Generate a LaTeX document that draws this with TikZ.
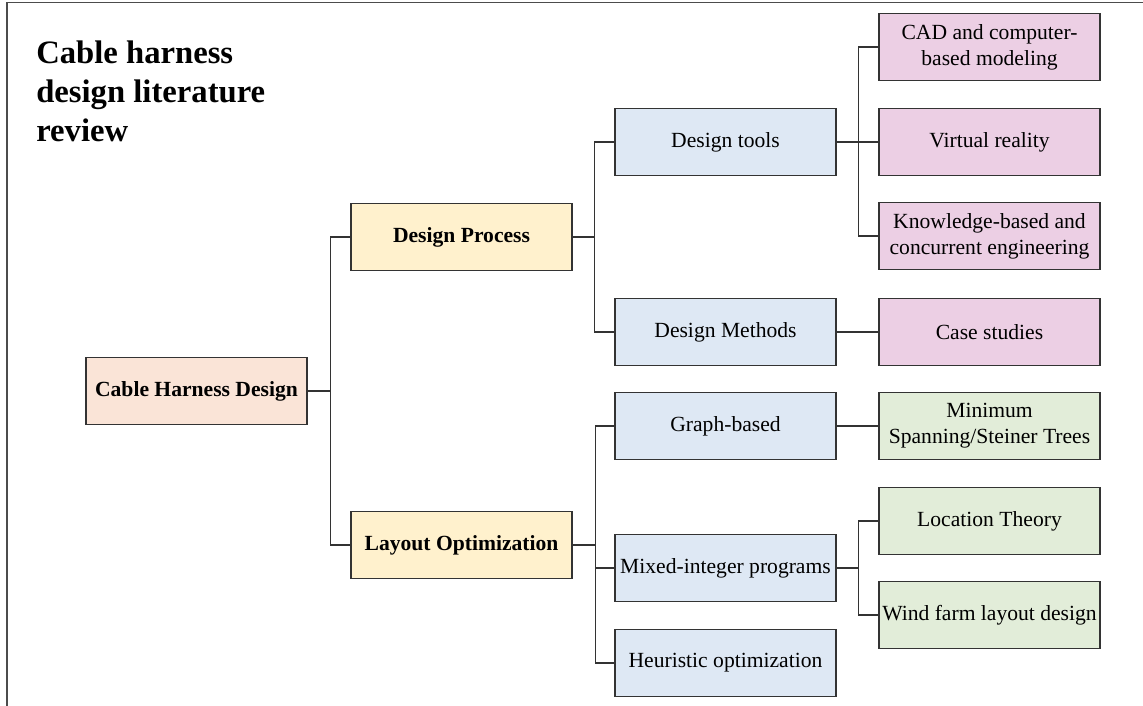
\documentclass[tikz,border=0pt]{standalone}
\usepackage{fontspec}
\setmainfont{Liberation Serif}
\usepackage{xcolor}
\usetikzlibrary{calc}
\usetikzlibrary{positioning}

\definecolor{rootfill}{HTML}{FAE4D7}
\definecolor{procfill}{HTML}{FFF1CD}
\definecolor{toolfill}{HTML}{DEE8F4}
\definecolor{topicfill}{HTML}{ECCFE4}
\definecolor{optfill}{HTML}{E2EDD9}
\definecolor{edgegray}{HTML}{333333}

\tikzset{
  box/.style={draw=edgegray,line width=0.9pt,minimum width=165.75pt,minimum height=50.25pt,
    inner sep=1pt,align=center,font=\fontsize{16.2}{19.5}\selectfont},
  boldbox/.style={box,font=\fontsize{16.2}{19.5}\selectfont\bfseries},
  wire/.style={draw=edgegray,line width=0.8pt}
}

\begin{document}
\begin{tikzpicture}[x=0.75pt,y=-0.75pt]
		\useasboundingbox (0,0) rectangle (1143,706);
		\draw[line width=1pt,gray!60!black] (7,706) -- (7,2.5) -- (1143,2.5);
		\node[anchor=north west,inner sep=0pt,align=left,font=\fontsize{24.5}{29.25}\selectfont\bfseries]
		  (title) at (36,40.5) {Cable harness\\design literature\\review};
%
		\node[boldbox,fill=rootfill] (root) at (196.5,391) {Cable Harness Design};
		\node[boldbox,fill=procfill] (dp) at (461.5,237) {Design Process};
		\node[boldbox,fill=procfill] (lo) at (461.5,545) {Layout Optimization};
%
		\node[box,fill=toolfill] (dt) at (725.5,142) {Design tools};
		\node[box,fill=toolfill] (dm) at (725.5,332) {Design Methods};
		\node[box,fill=toolfill] (gb) at (725.5,426) {Graph-based};
		\node[box,fill=toolfill] (mi) at (725.5,568) {Mixed-integer programs};
		\node[box,fill=toolfill] (ho) at (725.5,663) {Heuristic optimization};
%
		\node[box,fill=topicfill] (cad) at (989.5,47) {CAD and computer-\\based modeling};
		\node[box,fill=topicfill] (vr) at (989.5,142) {Virtual reality};
		\node[box,fill=topicfill] (kb) at (989.5,236) {Knowledge-based and\\concurrent engineering};
		\node[box,fill=topicfill] (cs) at (989.5,332) {Case studies};
		\node[box,fill=optfill] (ms) at (989.5,426) {Minimum\\Spanning/Steiner Trees};
		\node[box,fill=optfill] (lt) at (989.5,521) {Location Theory};
		\node[box,fill=optfill] (wf) at (989.5,615) {Wind farm layout design};
%
		\draw[wire] (root.east) -- ++(22.5,0) coordinate (b0);
		\draw[wire] (dp.west) -| (b0) |- (lo.west);
		\draw[wire] (dp.east) -- ++(21.5,0) coordinate (b1);
		\draw[wire] (dt.west) -| (b1) |- (dm.west);
		\draw[wire] (lo.east) -- ++(22.5,0) coordinate (b3);
		\draw[wire] (gb.west) -| (b3) |- (ho.west);
		\draw[wire] (mi.west) -- (b3 |- mi.west);
		\draw[wire] (dt.east) -- ++(21.5,0) coordinate (b2);
		\draw[wire] (cad.west) -| (b2) |- (kb.west);
		\draw[wire] (b2) -- (vr.west);
		\draw[wire] (dm.east) -- (cs.west);
		\draw[wire] (gb.east) -- (ms.west);
		\draw[wire] (mi.east) -- ++(21.5,0) coordinate (b4);
		\draw[wire] (lt.west) -| (b4) |- (wf.west);
\end{tikzpicture}
\end{document}
